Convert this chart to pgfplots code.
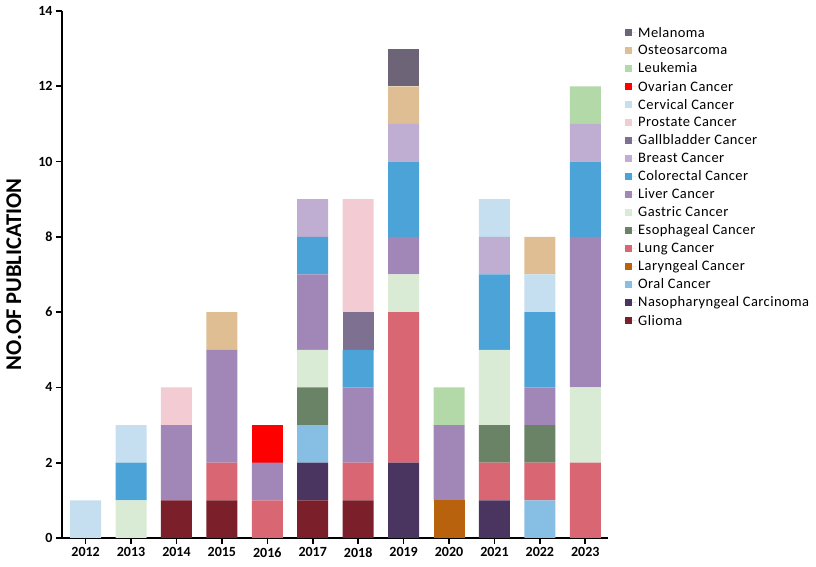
\documentclass[border=0pt]{standalone}
\usepackage{fontspec}
\setmainfont{Carlito}
\newfontfamily\legfont[LetterSpace=3]{Carlito}
\usepackage{pgfplots}
\pgfplotsset{compat=1.18}
\usepackage{pgfplotstable}

\definecolor{cGlioma}{HTML}{7B1F2B}
\definecolor{cNaso}{HTML}{4A3560}
\definecolor{cOral}{HTML}{87BEE4}
\definecolor{cLaryn}{HTML}{B8620E}
\definecolor{cLung}{HTML}{D96673}
\definecolor{cEso}{HTML}{6A8266}
\definecolor{cGastric}{HTML}{D9EAD5}
\definecolor{cLiver}{HTML}{A087B8}
\definecolor{cColo}{HTML}{4BA3D8}
\definecolor{cBreast}{HTML}{C0ADD2}
\definecolor{cGall}{HTML}{7D7090}
\definecolor{cProst}{HTML}{F2CBD3}
\definecolor{cCerv}{HTML}{C5DFF0}
\definecolor{cOvar}{HTML}{FF0000}
\definecolor{cLeuk}{HTML}{B3D9A9}
\definecolor{cOsteo}{HTML}{DFBE94}
\definecolor{cMela}{HTML}{6E6478}

\pgfplotstableread{
x Glioma Naso Oral Laryn Lung Eso Gastric Liver Colo Breast Gall Prost Cerv Ovar Leuk Osteo Mela
0 0 0 0 0 0 0 0 0 0 0 0 0 1 0 0 0 0
1 0 0 0 0 0 0 1 0 1 0 0 0 1 0 0 0 0
2 1 0 0 0 0 0 0 2 0 0 0 1 0 0 0 0 0
3 1 0 0 0 1 0 0 3 0 0 0 0 0 0 0 1 0
4 0 0 0 0 1 0 0 1 0 0 0 0 0 1 0 0 0
5 1 1 1 0 0 1 1 2 1 1 0 0 0 0 0 0 0
6 1 0 0 0 1 0 0 2 1 0 1 3 0 0 0 0 0
7 0 2 0 0 4 0 1 1 2 1 0 0 0 0 0 1 1
8 0 0 0 1 0 0 0 2 0 0 0 0 0 0 1 0 0
9 0 1 0 0 1 1 2 0 2 1 0 0 1 0 0 0 0
10 0 0 1 0 1 1 0 1 2 0 0 0 1 0 0 1 0
11 0 0 0 0 2 0 2 4 2 1 0 0 0 0 1 0 0
}\data

\begin{document}
\begin{tikzpicture}
\begin{axis}[
  name=ax,
  scale only axis,
  width=546pt, height=527pt,
  ybar stacked, bar width=31pt,
  xmin=-0.52, xmax=11.5,
  ymin=0, ymax=14,
  ytick={0,2,...,14},
  xtick=data,
  xticklabels={2012,2013,2014,2015,2016,2017,2018,2019,2020,2021,2022,2023},
  axis x line*=bottom, axis y line*=left,
  axis line style={line width=1.6pt, -},
  tick style={line width=1.6pt, black},
  tick align=outside, major tick length=6pt,
  /pgf/number format/assume math mode=true,
  ticklabel style={font=\fontsize{14}{16}\selectfont\bfseries},
  ylabel={\bfseries NO.OF PUBLICATION},
  ylabel style={font=\fontsize{22.5}{26}\selectfont},
  ylabel shift=10pt,
  legend style={at={(1,1)}, anchor=north west, xshift=14pt, yshift=-12pt, draw=none,
    font=\fontsize{14.5}{16}\selectfont\legfont, row sep=2.6pt, inner sep=2pt},
  legend cell align=left,
  reverse legend,
  legend image code/.code={\fill[#1] (1pt,-3.5pt) rectangle (7.5pt,3.5pt); \path (0pt,0pt) -- (12pt,0pt);},
  every axis plot/.append style={draw=none},
]
\addplot[fill=cGlioma] table[x=x,y=Glioma]{\data};
\addplot[fill=cNaso] table[x=x,y=Naso]{\data};
\addplot[fill=cOral] table[x=x,y=Oral]{\data};
\addplot[fill=cLaryn] table[x=x,y=Laryn]{\data};
\addplot[fill=cLung] table[x=x,y=Lung]{\data};
\addplot[fill=cEso] table[x=x,y=Eso]{\data};
\addplot[fill=cGastric] table[x=x,y=Gastric]{\data};
\addplot[fill=cLiver] table[x=x,y=Liver]{\data};
\addplot[fill=cColo] table[x=x,y=Colo]{\data};
\addplot[fill=cBreast] table[x=x,y=Breast]{\data};
\addplot[fill=cGall] table[x=x,y=Gall]{\data};
\addplot[fill=cProst] table[x=x,y=Prost]{\data};
\addplot[fill=cCerv] table[x=x,y=Cerv]{\data};
\addplot[fill=cOvar] table[x=x,y=Ovar]{\data};
\addplot[fill=cLeuk] table[x=x,y=Leuk]{\data};
\addplot[fill=cOsteo] table[x=x,y=Osteo]{\data};
\addplot[fill=cMela] table[x=x,y=Mela]{\data};
\legend{Glioma,Nasopharyngeal Carcinoma,Oral Cancer,Laryngeal Cancer,Lung Cancer,Esophageal Cancer,Gastric Cancer,Liver Cancer,Colorectal Cancer,Breast Cancer,Gallbladder Cancer,Prostate Cancer,Cervical Cancer,Ovarian Cancer,Leukemia,Osteosarcoma,Melanoma}
\end{axis}
\pgfresetboundingbox
\path[use as bounding box] ([xshift=-62pt,yshift=-29pt]ax.south west) rectangle ([xshift=208pt,yshift=11pt]ax.north east);
\end{tikzpicture}
\end{document}
